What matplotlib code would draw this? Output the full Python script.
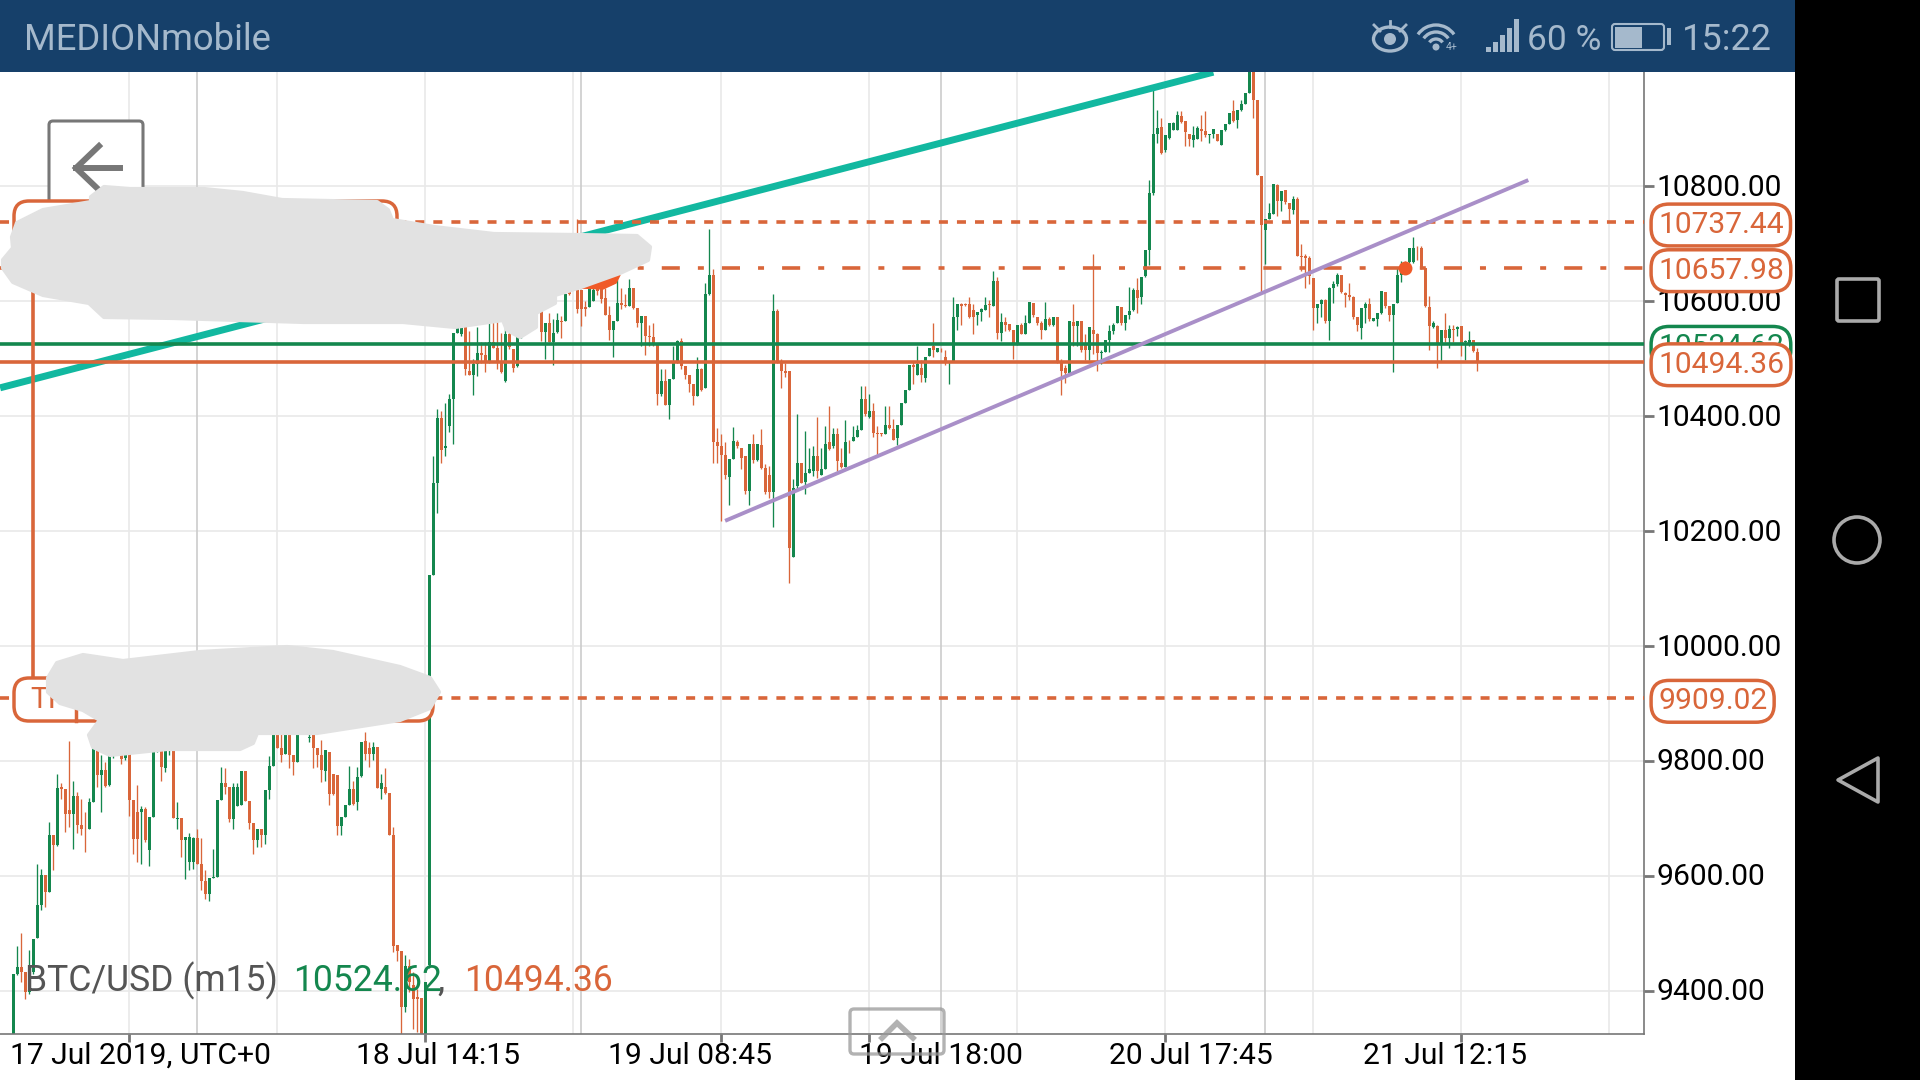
import matplotlib
matplotlib.use('Agg')
import matplotlib.pyplot as plt
from matplotlib.patches import Arc, Circle, Ellipse, FancyBboxPatch, Polygon, Rectangle
from matplotlib.transforms import ScaledTranslation

plt.rcParams['font.family'] = ['Roboto', 'DejaVu Sans']

# BTC/USD m15 candles (ten per row)
opens = [
    9300, 9430, 9442, 9433, 9398, 9433, 9492, 9550, 9601, 9573,
    9672, 9654, 9755, 9751, 9714, 9707, 9739, 9689, 9682, 9681,
    9728, 9819, 9776, 9784, 9758, 9813, 9835, 9813, 9805, 9821,
    9732, 9711, 9711, 9717, 9646, 9703, 9821, 9821, 9788, 9818,
    9823, 9699, 9701, 9662, 9624, 9624, 9666, 9620, 9591, 9568,
    9597, 9598, 9733, 9761, 9755, 9699, 9722, 9723, 9783, 9730,
    9693, 9662, 9682, 9671, 9750, 9792, 9848, 9823, 9813, 9848,
    9811, 9799, 9870, 9855, 9840, 9848, 9823, 9810, 9782, 9816,
    9778, 9776, 9687, 9703, 9724, 9751, 9728, 9774, 9834, 9823,
    9813, 9824, 9752, 9755, 9744, 9671, 9480, 9469, 9372, 9444,
    9410, 9389, 9387, 9300, 9445, 10124, 10283, 10397, 10345, 10383,
    10430, 10544, 10542, 10557, 10478, 10471, 10490, 10510, 10506, 10493,
    10529, 10519, 10493, 10461, 10543, 10517, 10487, 10540, 10575, 10555,
    10590, 10600, 10586, 10546, 10561, 10528, 10546, 10565, 10565, 10640,
    10625, 10620, 10619, 10589, 10590, 10600, 10625, 10623, 10606, 10576,
    10549, 10565, 10597, 10593, 10591, 10623, 10588, 10561, 10574, 10540,
    10538, 10523, 10438, 10461, 10420, 10464, 10493, 10530, 10487, 10471,
    10455, 10435, 10481, 10448, 10613, 10645, 10355, 10347, 10333, 10294,
    10326, 10354, 10345, 10330, 10269, 10351, 10323, 10349, 10310, 10298,
    10267, 10583, 10496, 10478, 10478, 10155, 10278, 10319, 10285, 10301,
    10304, 10330, 10298, 10307, 10354, 10347, 10369, 10319, 10311, 10355,
    10356, 10364, 10376, 10429, 10399, 10409, 10370, 10370, 10369, 10384,
    10377, 10361, 10385, 10422, 10446, 10489, 10472, 10484, 10466, 10505,
    10522, 10512, 10515, 10503, 10495, 10495, 10572, 10595, 10595, 10594,
    10585, 10576, 10581, 10585, 10594, 10592, 10634, 10544, 10564, 10560,
    10549, 10527, 10559, 10542, 10562, 10597, 10573, 10562, 10550, 10568,
    10559, 10573, 10495, 10484, 10475, 10563, 10556, 10565, 10527, 10515,
    10549, 10542, 10510, 10512, 10532, 10547, 10561, 10590, 10562, 10575,
    10584, 10619, 10607, 10643, 10688, 10787, 10891, 10903, 10863, 10884,
    10898, 10898, 10921, 10913, 10891, 10880, 10881, 10899, 10896, 10889,
    10891, 10890, 10872, 10897, 10907, 10930, 10914, 10932, 10942, 10961,
    11000, 10949, 10817, 10723, 10742, 10752, 10801, 10774, 10793, 10771,
    10759, 10778, 10679, 10678, 10675, 10640, 10588, 10594, 10601, 10566,
    10623, 10630, 10646, 10614, 10611, 10607, 10572, 10553, 10588, 10594,
    10566, 10569, 10579, 10615, 10591, 10575, 10597, 10646, 10666, 10667,
    10667, 10693, 10692, 10657, 10590, 10555, 10557, 10527, 10549, 10536,
    10551, 10551, 10556, 10528, 10524, 10532, 10511,
]
closes = [
    9430, 9442, 9433, 9398, 9433, 9491, 9550, 9601, 9572, 9672,
    9654, 9753, 9751, 9707, 9707, 9739, 9689, 9682, 9681, 9728,
    9827, 9776, 9784, 9756, 9813, 9840, 9850, 9804, 9813, 9732,
    9664, 9664, 9717, 9662, 9703, 9821, 9840, 9790, 9819, 9823,
    9700, 9701, 9662, 9668, 9668, 9666, 9620, 9591, 9568, 9597,
    9599, 9733, 9761, 9755, 9699, 9755, 9755, 9783, 9730, 9693,
    9662, 9682, 9671, 9750, 9791, 9848, 9823, 9811, 9848, 9811,
    9798, 9848, 9850, 9870, 9842, 9823, 9810, 9784, 9819, 9743,
    9743, 9687, 9703, 9724, 9751, 9726, 9772, 9833, 9813, 9813,
    9824, 9753, 9761, 9744, 9671, 9479, 9469, 9372, 9444, 9415,
    9386, 9386, 9300, 9415, 10124, 10283, 10397, 10341, 10348, 10430,
    10544, 10557, 10557, 10481, 10471, 10490, 10510, 10506, 10496, 10529,
    10519, 10493, 10477, 10543, 10520, 10484, 10539, 10575, 10555, 10590,
    10570, 10586, 10546, 10561, 10528, 10545, 10567, 10564, 10612, 10612,
    10650, 10586, 10586, 10586, 10623, 10620, 10618, 10603, 10576, 10549,
    10565, 10597, 10593, 10591, 10623, 10588, 10561, 10574, 10539, 10538,
    10526, 10438, 10461, 10420, 10464, 10493, 10530, 10487, 10471, 10455,
    10434, 10481, 10446, 10613, 10645, 10355, 10347, 10333, 10297, 10326,
    10357, 10348, 10327, 10269, 10351, 10323, 10351, 10310, 10267, 10267,
    10583, 10493, 10478, 10475, 10171, 10275, 10319, 10284, 10301, 10308,
    10330, 10304, 10308, 10352, 10343, 10368, 10322, 10311, 10355, 10354,
    10364, 10375, 10429, 10403, 10409, 10370, 10368, 10368, 10384, 10380,
    10359, 10385, 10422, 10446, 10489, 10486, 10491, 10472, 10502, 10518,
    10515, 10518, 10514, 10493, 10496, 10572, 10595, 10592, 10593, 10573,
    10573, 10581, 10586, 10593, 10593, 10634, 10544, 10564, 10559, 10549,
    10527, 10559, 10543, 10562, 10598, 10575, 10562, 10550, 10568, 10558,
    10573, 10495, 10478, 10475, 10565, 10556, 10565, 10515, 10514, 10555,
    10543, 10510, 10512, 10533, 10547, 10559, 10591, 10562, 10575, 10582,
    10619, 10605, 10642, 10688, 10787, 10891, 10901, 10858, 10888, 10910,
    10910, 10923, 10911, 10894, 10881, 10888, 10901, 10896, 10888, 10891,
    10899, 10879, 10897, 10907, 10927, 10913, 10932, 10943, 10961, 11000,
    10949, 10820, 10733, 10742, 10753, 10803, 10774, 10791, 10772, 10760,
    10778, 10679, 10677, 10675, 10643, 10588, 10594, 10601, 10566, 10623,
    10630, 10646, 10615, 10611, 10607, 10572, 10559, 10588, 10595, 10568,
    10571, 10579, 10617, 10592, 10576, 10595, 10646, 10657, 10657, 10692,
    10692, 10692, 10657, 10591, 10556, 10562, 10527, 10549, 10536, 10551,
    10549, 10554, 10524, 10530, 10532, 10513, 10495,
]
highs = [
    9430, 9479, 9500, 9433, 9471, 9491, 9621, 9613, 9601, 9694,
    9672, 9778, 9762, 9751, 9835, 9765, 9746, 9734, 9711, 9736,
    9827, 9819, 9810, 9798, 9813, 9850, 9860, 9813, 9813, 9821,
    9732, 9759, 9722, 9720, 9703, 9821, 9855, 9821, 9819, 9830,
    9830, 9728, 9701, 9668, 9674, 9668, 9682, 9666, 9610, 9597,
    9647, 9733, 9790, 9788, 9755, 9761, 9762, 9783, 9783, 9730,
    9693, 9682, 9682, 9750, 9809, 9860, 9860, 9850, 9855, 9855,
    9811, 9855, 9880, 9880, 9855, 9855, 9823, 9836, 9819, 9816,
    9778, 9776, 9703, 9724, 9792, 9766, 9790, 9833, 9850, 9833,
    9833, 9824, 9778, 9787, 9744, 9685, 9480, 9469, 9462, 9456,
    9433, 9404, 9387, 9415, 10124, 10330, 10412, 10409, 10423, 10438,
    10544, 10580, 10570, 10570, 10548, 10499, 10554, 10528, 10528, 10565,
    10568, 10568, 10545, 10568, 10554, 10517, 10548, 10590, 10600, 10610,
    10600, 10610, 10586, 10561, 10580, 10568, 10580, 10574, 10612, 10650,
    10660, 10742, 10619, 10600, 10632, 10625, 10635, 10626, 10623, 10591,
    10565, 10638, 10623, 10612, 10638, 10623, 10588, 10574, 10574, 10559,
    10561, 10523, 10481, 10481, 10464, 10522, 10533, 10535, 10487, 10471,
    10455, 10503, 10484, 10632, 10726, 10656, 10380, 10368, 10354, 10326,
    10381, 10358, 10345, 10330, 10351, 10368, 10351, 10377, 10316, 10313,
    10613, 10586, 10499, 10493, 10478, 10290, 10403, 10319, 10374, 10345,
    10347, 10399, 10345, 10383, 10417, 10380, 10380, 10345, 10393, 10359,
    10383, 10385, 10452, 10452, 10439, 10423, 10383, 10371, 10417, 10417,
    10394, 10385, 10422, 10446, 10489, 10495, 10522, 10498, 10502, 10518,
    10561, 10518, 10518, 10514, 10496, 10607, 10595, 10597, 10597, 10607,
    10594, 10581, 10588, 10607, 10601, 10653, 10642, 10579, 10573, 10560,
    10549, 10559, 10562, 10576, 10598, 10597, 10573, 10565, 10598, 10573,
    10573, 10573, 10499, 10489, 10565, 10594, 10566, 10565, 10542, 10555,
    10681, 10544, 10515, 10533, 10559, 10562, 10591, 10590, 10575, 10624,
    10623, 10640, 10642, 10688, 10810, 10974, 10933, 10919, 10888, 10910,
    10912, 10930, 10930, 10913, 10891, 10904, 10904, 10923, 10930, 10891,
    10899, 10890, 10897, 10907, 10927, 10949, 10932, 10950, 10961, 11020,
    11020, 10949, 10817, 10742, 10771, 10803, 10803, 10791, 10793, 10771,
    10783, 10781, 10700, 10681, 10678, 10640, 10595, 10604, 10604, 10624,
    10634, 10648, 10646, 10615, 10631, 10608, 10572, 10588, 10598, 10605,
    10571, 10579, 10617, 10615, 10591, 10595, 10660, 10669, 10669, 10692,
    10711, 10695, 10695, 10657, 10609, 10565, 10559, 10549, 10579, 10559,
    10559, 10556, 10556, 10533, 10547, 10533, 10518,
]
lows = [
    9300, 9427, 9415, 9386, 9395, 9430, 9492, 9540, 9546, 9573,
    9610, 9653, 9734, 9676, 9685, 9647, 9674, 9671, 9642, 9681,
    9728, 9755, 9712, 9755, 9757, 9805, 9830, 9795, 9801, 9705,
    9639, 9624, 9620, 9659, 9617, 9703, 9815, 9766, 9780, 9810,
    9700, 9682, 9633, 9594, 9610, 9613, 9620, 9575, 9560, 9556,
    9597, 9598, 9733, 9743, 9694, 9681, 9722, 9723, 9730, 9682,
    9639, 9650, 9650, 9656, 9734, 9792, 9823, 9799, 9813, 9787,
    9775, 9799, 9848, 9850, 9833, 9788, 9790, 9763, 9766, 9724,
    9740, 9672, 9671, 9703, 9724, 9723, 9714, 9772, 9801, 9790,
    9801, 9753, 9734, 9743, 9671, 9468, 9453, 9300, 9363, 9398,
    9334, 9328, 9290, 9290, 9440, 10124, 10232, 10319, 10330, 10372,
    10351, 10544, 10540, 10472, 10471, 10437, 10470, 10493, 10477, 10493,
    10519, 10481, 10475, 10459, 10516, 10477, 10486, 10535, 10550, 10550,
    10560, 10586, 10530, 10499, 10528, 10489, 10545, 10536, 10565, 10610,
    10620, 10580, 10557, 10574, 10590, 10600, 10610, 10597, 10576, 10533,
    10503, 10565, 10586, 10589, 10591, 10586, 10554, 10522, 10506, 10522,
    10522, 10419, 10435, 10420, 10394, 10464, 10493, 10481, 10464, 10442,
    10419, 10435, 10443, 10448, 10610, 10319, 10319, 10217, 10290, 10246,
    10326, 10345, 10307, 10264, 10246, 10319, 10322, 10307, 10264, 10258,
    10207, 10493, 10449, 10467, 10110, 10155, 10272, 10284, 10264, 10301,
    10296, 10293, 10298, 10307, 10341, 10345, 10304, 10310, 10311, 10336,
    10356, 10364, 10376, 10400, 10397, 10364, 10333, 10366, 10368, 10377,
    10358, 10349, 10385, 10422, 10446, 10455, 10472, 10460, 10459, 10504,
    10502, 10512, 10512, 10488, 10455, 10495, 10550, 10559, 10592, 10570,
    10543, 10558, 10566, 10585, 10573, 10592, 10534, 10530, 10547, 10547,
    10499, 10524, 10542, 10542, 10562, 10572, 10559, 10534, 10550, 10556,
    10556, 10492, 10437, 10457, 10474, 10521, 10521, 10511, 10498, 10497,
    10507, 10478, 10491, 10512, 10512, 10542, 10561, 10559, 10549, 10568,
    10582, 10579, 10594, 10642, 10663, 10785, 10875, 10855, 10860, 10882,
    10898, 10898, 10909, 10870, 10870, 10868, 10881, 10878, 10885, 10875,
    10884, 10878, 10872, 10895, 10907, 10911, 10901, 10930, 10942, 10961,
    10918, 10820, 10614, 10665, 10742, 10752, 10747, 10756, 10769, 10739,
    10752, 10678, 10652, 10623, 10629, 10549, 10562, 10573, 10562, 10532,
    10597, 10626, 10614, 10590, 10602, 10569, 10547, 10534, 10562, 10565,
    10565, 10556, 10578, 10588, 10565, 10476, 10597, 10633, 10649, 10666,
    10666, 10672, 10656, 10590, 10515, 10553, 10484, 10495, 10528, 10518,
    10528, 10539, 10504, 10498, 10521, 10511, 10479,
]

# horizontal order levels
open_price = 10524.62
close_price = 10494.36
stop_level = 10737.44
entry_level = 10657.98
target_level = 9909.02

y_ticks = [9400, 9600, 9800, 10000, 10200, 10400, 10600, 10800]

# x axis in candle numbers
grid_light = [29, 66, 103, 140, 177, 214, 251, 288, 325, 362, 399]
grid_day = [46, 142, 232, 313]
tick_pos = [29, 103, 177, 214, 288, 362]
date_labels = ['18 Jul 14:15', '19 Jul 08:45', '19 Jul 18:00', '20 Jul 17:45', '21 Jul 12:15']
date_pos = [106.2, 169.2, 232, 294.4, 357.9]

# trend lines as (candle, price)
teal_x = [-3.3, 300]
teal_y = [10449, 10998]
purple_x = [178.4, 378.3]
purple_y = [10219, 10809]

GREEN = '#14874e'
RED = '#d9663a'
TEAL = '#12b8a0'
PURPLE = '#a98fc8'
GREY = '#777777'
BAR = '#16406a'
BAR_TEXT = '#a5b9cc'
BLOB = '#e2e2e2'
NAV = '#aaaaaa'

fig = plt.figure(figsize=(19.2, 10.8), dpi=100, facecolor='white')
W, H = 1920.0, 1080.0
ax = fig.add_axes([0, 1 - 1034 / H, 1644 / W, (1034 - 72) / H], zorder=1)
ax.set_xlim(-3.325, 407.675)
ax.set_ylim(9325.2, 10998.3)

for s in ['top', 'left']:
    ax.spines[s].set_visible(False)
for s in ['right', 'bottom']:
    ax.spines[s].set_color(GREY)
    ax.spines[s].set_linewidth(1.2)

ax.yaxis.tick_right()
ax.set_yticks(y_ticks)
ax.set_yticklabels(['%.2f' % v for v in y_ticks], fontsize=21.6, color='black')
ax.tick_params(axis='y', length=7, width=2, color=GREY, pad=2)
# labels sit a little above their ticks in the app
nudge = ScaledTranslation(0, 1.5 / 100, fig.dpi_scale_trans)
for t in ax.get_yticklabels():
    t.set_transform(t.get_transform() + nudge)
ax.set_xticks(tick_pos)
ax.set_xticklabels([])
ax.tick_params(axis='x', length=6, width=2, color=GREY)
ax.set_axisbelow(True)
ax.grid(axis='y', color='#e9e9e9', lw=1.2)

for g in grid_light:
    ax.axvline(g, color='#e9e9e9', lw=1.2, zorder=0.5)
for g in grid_day:
    ax.axvline(g, color='#cccccc', lw=1.2, zorder=0.6)

# candles
for i in range(len(opens)):
    col = GREEN if closes[i] >= opens[i] else RED
    ax.vlines(i, lows[i], highs[i], color=col, lw=0.95, zorder=2)
    ax.bar(i, abs(closes[i] - opens[i]), bottom=min(opens[i], closes[i]), width=0.72,
           color=col, linewidth=0, zorder=2)

ax.plot(teal_x, teal_y, color=TEAL, lw=5.0, solid_capstyle='butt', zorder=3)

# order lines
ax.axhline(target_level, color=RED, lw=2.6, ls=(0, (2.5, 2.5)), dash_capstyle='butt', zorder=3)
ax.axhline(stop_level, color=RED, lw=2.6, ls=(0, (2.5, 2.5)), dash_capstyle='butt', zorder=3)
ax.axhline(entry_level, color=RED, lw=2.6, ls=(0, (5, 5, 1.66, 5)), dash_capstyle='butt', zorder=3)
ax.axhline(open_price, color=GREEN, lw=2.6, zorder=3.2)
ax.axhline(close_price, color=RED, lw=2.6, zorder=3.3)
ax.plot(purple_x, purple_y, color=PURPLE, lw=2.8, zorder=3.4)
ax.plot([347.9], [entry_level], 'o', color='#f05a28', ms=10, mew=0, zorder=3.5)

# price badges right of the axis
badge_x = 1658 / 1644.0
for val, txt, col, z in [(stop_level, '10737.44', RED, 5), (entry_level, '10657.98', RED, 5),
                         (target_level, '9909.02', RED, 5), (open_price, '10524.62', GREEN, 5),
                         (close_price, '10494.36', RED, 6)]:
    ax.text(badge_x, val, txt, transform=ax.get_yaxis_transform(), color=col, fontsize=21.6,
            va='center_baseline', ha='left', clip_on=False, zorder=z,
            bbox=dict(boxstyle='round,pad=0.23,rounding_size=0.6', fc='white', ec=col, lw=2.5))

# date labels
label_y = (1034 - 1064) / (1034 - 72.0)
trans = ax.get_xaxis_transform()
ax.text(-0.8, label_y, '17 Jul 2019, UTC+0', transform=trans, fontsize=21.6, ha='left',
        va='baseline', clip_on=False)
for p, lab in zip(date_pos, date_labels):
    ax.text(p, label_y, lab, transform=trans, fontsize=21.6, ha='center', va='baseline', clip_on=False)

# screen furniture, in screenshot pixels
top = fig.add_axes([0, 0, 1, 1], zorder=2)
top.set_xlim(0, W)
top.set_ylim(H, 0)
top.axis('off')
top.patch.set_alpha(0)

top.add_patch(Rectangle((0, 0), 1795, 72, fc=BAR, ec='none', zorder=1))
top.add_patch(Rectangle((1795, 0), 125, 1080, fc='black', ec='none', zorder=1))

top.text(24, 50, 'MEDIONmobile', color=BAR_TEXT, fontsize=26.2, va='baseline', zorder=2)
top.text(1527, 50, '60 %', color=BAR_TEXT, fontsize=25.5, va='baseline', zorder=2)
top.text(1682, 50, '15:22', color=BAR_TEXT, fontsize=26, va='baseline', zorder=2)

# eye
top.add_patch(Ellipse((1390, 39), 33, 24, fc='none', ec=BAR_TEXT, lw=2.4, zorder=2))
top.add_patch(Circle((1390, 39), 6, fc=BAR_TEXT, ec='none', zorder=2))
for x0, y0, x1, y1 in [(1374, 25, 1380, 31), (1390, 21, 1390, 27), (1406, 25, 1400, 31)]:
    top.plot([x0, x1], [y0, y1], color=BAR_TEXT, lw=2, zorder=2)
# wifi
for d in [16, 30, 44]:
    top.add_patch(Arc((1436, 47), d, d, theta1=215, theta2=325, color=BAR_TEXT, lw=2.4, zorder=2))
top.add_patch(Circle((1436, 47), 3.5, fc=BAR_TEXT, ec='none', zorder=2))
top.text(1452, 50, '4+', color=BAR_TEXT, fontsize=7.5, ha='center', va='baseline', zorder=2)
# signal bars
for x0, y0 in zip([1486, 1493, 1500, 1507, 1514], [47, 42, 35, 28, 19]):
    top.add_patch(Rectangle((x0, y0), 4.5, 52 - y0, fc=BAR_TEXT, ec='none', zorder=2))
# battery
top.add_patch(FancyBboxPatch((1612, 24), 52, 26, boxstyle='round,pad=0,rounding_size=3',
                             fc='none', ec=BAR_TEXT, lw=1.5, zorder=2))
top.add_patch(Rectangle((1615, 26.5), 27, 21, fc=BAR_TEXT, ec='none', zorder=2))
top.add_patch(Rectangle((1667, 28), 4, 17, fc=BAR_TEXT, ec='none', zorder=2))

# nav buttons
top.add_patch(FancyBboxPatch((1837, 279), 42, 42, boxstyle='round,pad=0,rounding_size=2',
                             fc='none', ec=NAV, lw=2.6, zorder=2))
top.add_patch(Circle((1857, 540), 23, fc='none', ec=NAV, lw=2.6, zorder=2))
top.add_patch(Polygon([[1838, 780], [1878, 758], [1878, 802]], closed=True, fc='none', ec=NAV,
                      lw=2.6, joinstyle='round', zorder=2))

# back button
top.add_patch(FancyBboxPatch((49, 121), 94, 90, boxstyle='round,pad=0,rounding_size=4',
                             fc='white', ec=GREY, lw=2.2, zorder=1.5))
top.plot([99, 76, 99], [146, 168, 190], color=GREY, lw=4.3, solid_joinstyle='miter', zorder=1.6)
top.plot([76, 120], [168, 168], color=GREY, lw=4.3, zorder=1.6)

# trade labels and the line joining them
top.plot([33, 33], [240, 680], color=RED, lw=2.6, zorder=1.4)
top.add_patch(FancyBboxPatch((14, 201), 383, 42, boxstyle='round,pad=0,rounding_size=15',
                             fc='white', ec=RED, lw=2.5, zorder=1.5))
top.text(33, 232, 'SL', color=RED, fontsize=21.6, va='baseline', zorder=1.6)
top.add_patch(FancyBboxPatch((14, 678), 419, 43, boxstyle='round,pad=0,rounding_size=15',
                             fc='white', ec=RED, lw=2.5, zorder=1.5))
top.plot([76, 76], [700, 721], color=RED, lw=2.5, zorder=1.6)
top.text(30, 708, 'TP', color=RED, fontsize=21.6, va='baseline', zorder=1.6)

# orange piece poking out below the first smear
top.add_patch(Polygon([[581, 288], [620, 275], [616, 283], [603, 289]], closed=True, fc='#f05a28',
                      ec='#f05a28', lw=1, zorder=1.7))

# grey smears painted over the screenshot
smear_a = [[91, 197], [104, 187], [130, 189], [204, 189], [243, 193], [282, 200], [377, 202],
           [388, 210], [392, 220], [434, 227], [494, 234], [577, 235], [637, 236], [650, 247],
           [648, 260], [620, 273], [581, 287], [555, 295], [555, 303], [536, 313], [536, 327],
           [520, 337], [507, 330], [503, 320], [455, 327], [403, 322], [304, 322], [173, 318],
           [104, 317], [89, 303], [43, 295], [13, 282], [3, 268], [3, 260], [13, 248], [12, 237],
           [17, 223], [43, 210], [91, 202]]
smear_b = [[48, 678], [57, 663], [83, 655], [123, 661], [200, 652], [287, 647], [333, 652],
           [400, 667], [430, 678], [439, 692], [430, 708], [400, 720], [317, 733], [257, 733],
           [253, 743], [240, 749], [167, 749], [110, 755], [93, 747], [89, 735], [100, 720],
           [83, 710], [60, 703], [48, 692]]
for smear in (smear_a, smear_b):
    top.add_patch(Polygon(smear, closed=True, fc=BLOB, ec=BLOB, lw=3, joinstyle='round', zorder=1.8))

# symbol line
top.text(25, 991, 'BTC/USD (m15)', color='#555555', fontsize=25.6, va='baseline', zorder=2)
top.text(293, 991, '10524.62', color=GREEN, fontsize=25.6, va='baseline', zorder=2)
top.text(437, 991, ',', color='#555555', fontsize=25.6, va='baseline', zorder=2)
top.text(464, 991, '10494.36', color=RED, fontsize=25.6, va='baseline', zorder=2)

# collapse button at the bottom
top.add_patch(FancyBboxPatch((850, 1009), 94, 45, boxstyle='round,pad=0,rounding_size=4',
                             fc='none', ec='#999999', lw=2.4, alpha=0.75, zorder=3))
top.plot([882, 897, 913], [1038, 1023, 1038], color='#999999', lw=4, alpha=0.75,
         solid_joinstyle='miter', zorder=3)

fig.savefig('out.png', dpi=100)
